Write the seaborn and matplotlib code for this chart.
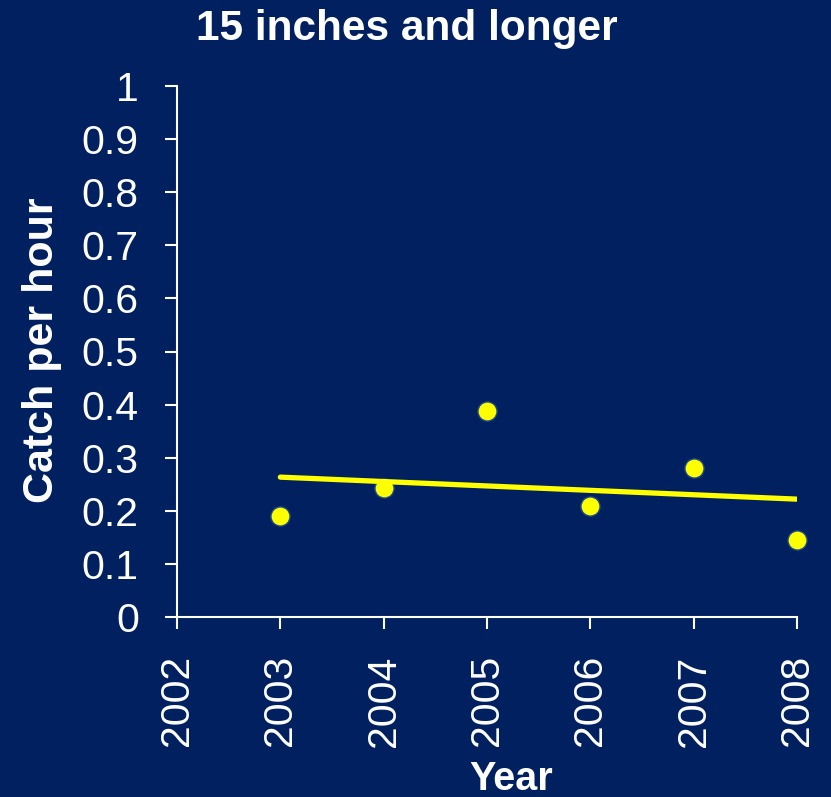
import matplotlib
matplotlib.use("Agg")
import matplotlib.pyplot as plt
import seaborn as sns
import numpy as np
import pandas as pd

years = [2003, 2004, 2005, 2006, 2007, 2008]
catch_per_hour = [0.190, 0.243, 0.388, 0.209, 0.281, 0.145]
x_ticks = [2002, 2003, 2004, 2005, 2006, 2007, 2008]
y_ticks = [0, 0.1, 0.2, 0.3, 0.4, 0.5, 0.6, 0.7, 0.8, 0.9, 1]
y_tick_labels = ["0", "0.1", "0.2", "0.3", "0.4", "0.5", "0.6", "0.7", "0.8", "0.9", "1"]
title = "15 inches and longer"
xlabel = "Year"
ylabel = "Catch per hour"

BG = "#002060"
sns.set_style("ticks")
plt.rcParams["font.family"] = ["Liberation Sans", "DejaVu Sans"]

df = pd.DataFrame({"Year": years, "Catch": catch_per_hour})

fig = plt.figure(figsize=(8.31, 7.97), dpi=100, facecolor=BG)
ax = fig.add_axes([177/831, 1-617/797, 620/831, 531/797])
ax.set_facecolor(BG)

sns.regplot(data=df, x="Year", y="Catch", ci=None, ax=ax,
            scatter_kws=dict(s=190, color="#FFFF00", edgecolors="#1a4a8a",
                             linewidths=1.0, clip_on=False, zorder=3, alpha=1),
            line_kws=dict(color="#FFFF00", lw=3.8, solid_capstyle="round", zorder=4))

ax.set_xlim(2002, 2008)
ax.set_ylim(0, 1)
ax.set_xticks(x_ticks)
ax.set_xticklabels([str(v) for v in x_ticks], rotation=90, fontsize=29.5, color="white")
ax.set_yticks(y_ticks)
ax.set_yticklabels(y_tick_labels, fontsize=29.5, color="white")
ax.tick_params(axis="both", direction="out", colors="white", width=1.5, length=8.5, pad=19)
ax.set_xlabel("")
ax.set_ylabel("")
for side in ["top", "right"]:
    ax.spines[side].set_visible(False)
for side in ["left", "bottom"]:
    ax.spines[side].set_color("white")
    ax.spines[side].set_linewidth(1.5)

fig.text(407/831, 1-40/797, title, ha="center", va="baseline",
         fontsize=30.5, fontweight="bold", color="white")
fig.text(511/831, 1-790/797, xlabel, ha="center", va="baseline",
         fontsize=28.5, fontweight="bold", color="white")
fig.text(42/831, 1-350/797, ylabel, ha="center", va="center", rotation=90,
         fontsize=31, fontweight="bold", color="white")

fig.savefig("out.png", dpi=100, facecolor=BG)
